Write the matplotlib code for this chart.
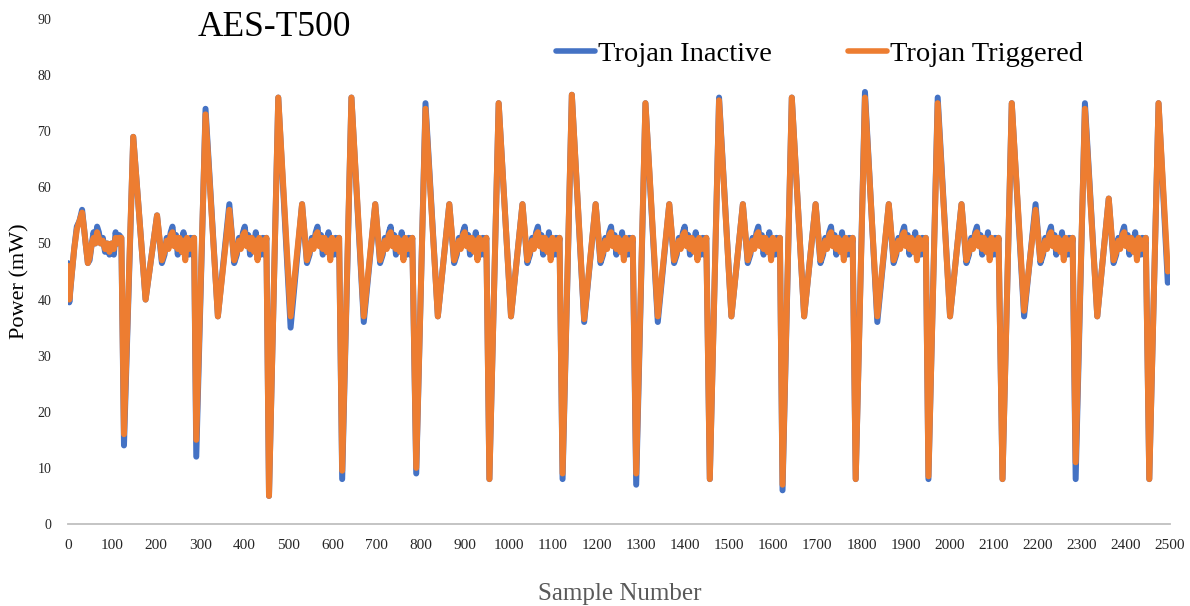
import matplotlib
matplotlib.use("Agg")
import matplotlib.pyplot as plt

plt.rcParams['font.family'] = ['Liberation Serif', 'DejaVu Serif']

# ---------------- data ----------------
series_names = ["Trojan Inactive", "Trojan Triggered"]

# sample index of each deep spike minimum
spike_sample = [127, 291, 456, 622, 790, 956, 1122, 1289, 1456, 1621, 1787, 1952, 2120, 2286, 2453]

inactive_min = [14, 12, 5, 8, 9, 8, 8, 7, 8, 6, 8, 8, 8, 8, 8]
triggered_min = [16, 15, 5, 9.5, 10, 8, 9, 9, 8, 7, 8, 8.5, 8, 11, 8]

inactive_peak = [69, 74, 76, 76, 75, 75, 76.5, 75, 76, 76, 77, 76, 75, 75, 75]
triggered_peak = [69, 73, 76, 76, 74, 75, 76.5, 75, 75.5, 76, 76, 75, 75, 74, 75]

inactive_trough = [40, 37, 35, 36, 37, 37, 36, 36, 37, 37, 36, 37, 37, 37]
triggered_trough = [40, 37, 37, 37, 37, 37, 36.5, 37, 37, 37, 37, 37, 38, 37]

inactive_bump = [55, 57, 57, 57, 57, 57, 57, 57, 57, 57, 57, 57, 57, 58]
triggered_bump = [55, 56, 57, 57, 57, 57, 57, 57, 57, 57, 57, 57, 56, 58]

# sample offsets (from a spike minimum) of the main peak, trough and bump
peak_offset = 21
trough_offset = 49
bump_offset = 75

# noisy plateau after each bump (offsets from spike minimum)
plateau_offsets = [86, 92, 97, 101, 106, 110, 114, 118, 122, 126, 131, 135, 139, 143, 147, 151, 155, 159]
inactive_plateau = [46.5, 48, 51, 49.5, 52, 53, 50, 51.5, 48, 51, 49, 52, 48, 50, 48, 51, 48, 51]
triggered_plateau = [47, 48.5, 50.5, 49, 51.5, 52, 49.5, 51, 49, 51, 48.5, 50.5, 47, 51, 49, 50.5, 49, 51]

# opening stretch before the first spike
lead_sample = [0, 3, 8, 14, 20, 26, 32, 36, 40, 45, 49, 54, 58, 62, 66, 70, 74, 79, 84, 89, 94, 99, 104, 108, 112, 116, 121]
inactive_lead = [46.5, 39.5, 44, 49, 53, 54, 56, 53, 50, 46.5, 47, 50, 52, 50, 53, 52, 50, 51, 48.5, 50, 48, 50, 48, 52, 50, 51.5, 51]
triggered_lead = [46, 40, 44, 49, 52.5, 54, 55.5, 53, 50, 46.5, 47.5, 50, 51, 50, 52, 51, 50, 50.5, 49, 50, 48.5, 50, 49, 51, 50, 51, 51]

# final sample
end_sample = 2495
inactive_end = 43
triggered_end = 45

x_ticks = list(range(0, 2501, 100))
y_ticks = list(range(0, 91, 10))


def build(mins, peaks, troughs, bumps, plateau, lead, end):
    xs = list(lead_sample)
    ys = list(lead)
    for i, s in enumerate(spike_sample):
        xs += [s, s + peak_offset]
        ys += [mins[i], peaks[i]]
        if i < len(troughs):
            xs += [s + trough_offset, s + bump_offset]
            ys += [troughs[i], bumps[i]]
            xs += [s + o for o in plateau_offsets]
            ys += list(plateau)
        else:
            xs.append(end_sample)
            ys.append(end)
    return xs, ys


inactive_x, inactive_y = build(inactive_min, inactive_peak, inactive_trough,
                               inactive_bump, inactive_plateau, inactive_lead, inactive_end)
triggered_x, triggered_y = build(triggered_min, triggered_peak, triggered_trough,
                                 triggered_bump, triggered_plateau, triggered_lead, triggered_end)

# ---------------- figure ----------------
W, H = 1190, 606
fig = plt.figure(figsize=(W / 100, H / 100), dpi=100)
ax = fig.add_axes([68 / W, 82 / H, 1102 / W, 505 / H])

blue = '#4472C4'
orange = '#ED7D31'
lw = 4.3
ax.plot(inactive_x, inactive_y, color=blue, lw=lw, solid_joinstyle='round',
        solid_capstyle='round', label=series_names[0])
ax.plot(triggered_x, triggered_y, color=orange, lw=lw, solid_joinstyle='round',
        solid_capstyle='round', label=series_names[1])

ax.set_xlim(0, 2500)
ax.set_ylim(0, 90)
ax.set_xticks(x_ticks)
ax.set_yticks(y_ticks)
ax.tick_params(axis='both', length=0)
ax.tick_params(axis='y', labelsize=10, pad=12, labelcolor='#262626')
ax.tick_params(axis='x', labelsize=11, pad=11, labelcolor='#262626')
for side in ['left', 'right', 'top']:
    ax.spines[side].set_visible(False)
ax.spines['bottom'].set_color('#BFBFBF')
ax.spines['bottom'].set_linewidth(1.3)

fig.text(198 / W, 1 - 36 / H, "AES-T500", fontsize=25.5, ha='left', va='baseline')
fig.text(20 / W, 1 - 281 / H, "Power (mW)", rotation=90, fontsize=16,
         ha='center', va='center')
fig.text(620 / W, 1 - 600 / H, "Sample Number", fontsize=18, color='#595959',
         ha='center', va='baseline')

leg = ax.legend(loc='center left', bbox_to_anchor=(556 / W, 1 - 54 / H),
                bbox_transform=fig.transFigure, ncol=2, frameon=False,
                fontsize=20.5, handlelength=1.37, handletextpad=0.12,
                columnspacing=2.65, borderpad=0, borderaxespad=0)
for line in leg.get_lines():
    line.set_solid_capstyle('round')
    line.set_linewidth(4)

fig.savefig('out.png', dpi=100)
